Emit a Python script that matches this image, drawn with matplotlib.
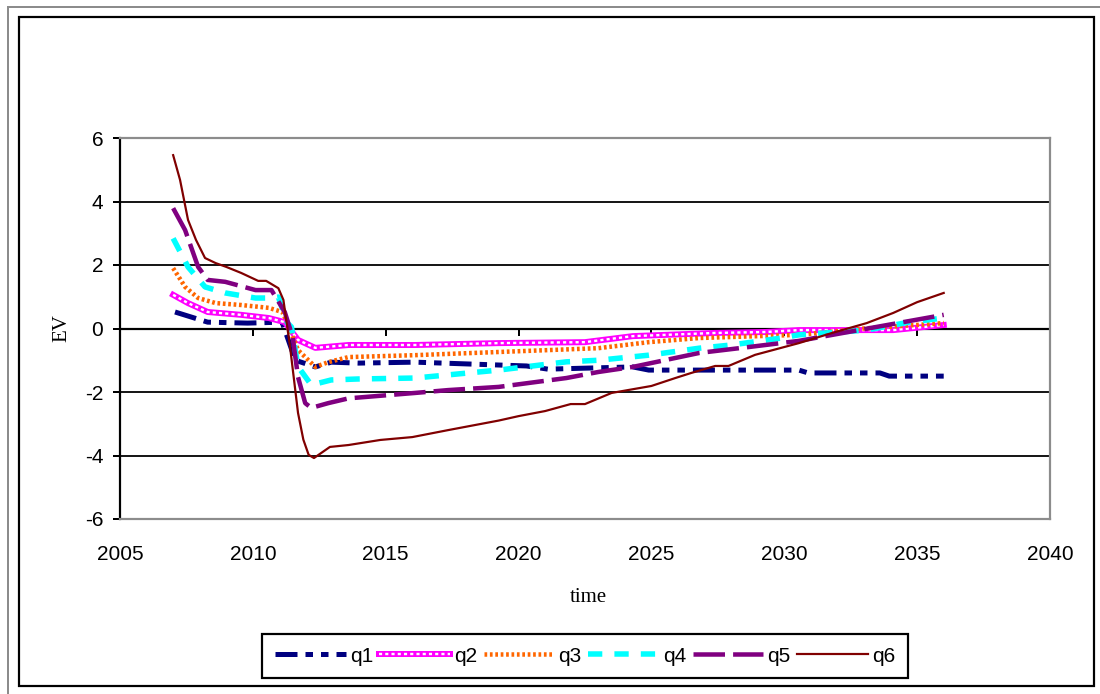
import matplotlib
matplotlib.use('Agg')
from matplotlib import pyplot as plt
from matplotlib.patches import Rectangle
from matplotlib.legend_handler import HandlerTuple

# values
q1_year = [2007.07, 2008.3, 2009.8, 2011.1, 2011.6, 2012.35, 2012.95, 2013.97, 2016.1,
           2019.25, 2020.3, 2021.1, 2024.3, 2024.9, 2030.55, 2030.9, 2033.6, 2033.95, 2036.0]
q1_ev = [0.52, 0.2, 0.17, 0.2, -1.0, -1.21, -1.06, -1.09, -1.06,
         -1.15, -1.18, -1.28, -1.21, -1.31, -1.31, -1.4, -1.4, -1.5, -1.5]

q2_year = [2007.0, 2007.56, 2008.3, 2009.56, 2010.6, 2011.2, 2011.7, 2012.35, 2013.6,
           2016.1, 2019.25, 2022.5, 2024.3, 2027.4, 2029.3, 2030.55, 2034.1, 2036.0]
q2_ev = [1.06, 0.8, 0.52, 0.43, 0.33, 0.2, -0.36, -0.61, -0.52,
         -0.52, -0.46, -0.43, -0.24, -0.14, -0.11, -0.05, -0.05, 0.11]

q3_year = [2007.0, 2007.45, 2007.94, 2008.6, 2009.56, 2010.6, 2011.1, 2011.2, 2011.7,
           2012.35, 2012.84, 2013.6, 2016.1, 2019.25, 2023.0, 2024.9, 2026.8, 2030.55,
           2033.0, 2036.0]
q3_ev = [1.9, 1.31, 0.96, 0.8, 0.74, 0.65, 0.52, 0.36, -0.68,
         -1.21, -1.06, -0.9, -0.84, -0.74, -0.62, -0.43, -0.3, -0.2,
         0.0, 0.17]

q4_year = [2007.0, 2007.56, 2008.2, 2008.96, 2010.1, 2010.7, 2010.96, 2011.3, 2011.45,
           2011.7, 2012.2, 2012.95, 2013.97, 2016.1, 2019.25, 2021.8, 2023.0, 2024.9,
           2026.8, 2028.0, 2029.9, 2030.55, 2033.1, 2034.7, 2036.0]
q4_ev = [2.84, 1.94, 1.31, 1.12, 0.96, 0.96, 0.99, 0.17, 0.05,
         -1.2, -1.78, -1.62, -1.59, -1.56, -1.31, -1.05, -1.0, -0.84,
         -0.62, -0.52, -0.3, -0.2, -0.05, 0.2, 0.33]

q5_year = [2007.0, 2007.45, 2007.94, 2008.3, 2008.96, 2010.1, 2010.7, 2011.2, 2011.5,
           2011.7, 2011.97, 2012.2, 2012.84, 2013.6, 2016.1, 2017.35, 2019.25, 2021.8,
           2023.0, 2024.3, 2026.8, 2028.7, 2030.55, 2036.0]
q5_ev = [3.79, 3.1, 1.94, 1.53, 1.47, 1.21, 1.21, 0.52, -0.27,
         -1.53, -2.35, -2.5, -2.35, -2.2, -2.03, -1.94, -1.84, -1.56,
         -1.37, -1.21, -0.77, -0.58, -0.39, 0.43]

q6_year = [2007.0, 2007.26, 2007.56, 2007.86, 2008.2, 2008.6, 2009.0, 2009.56, 2010.2,
           2010.5, 2010.96, 2011.15, 2011.4, 2011.7, 2011.9, 2012.1, 2012.3, 2012.9,
           2013.6, 2014.8, 2016.0, 2017.35, 2019.25, 2020.0, 2021.0, 2021.96, 2022.5,
           2023.5, 2025.0, 2025.9, 2026.5, 2027.4, 2027.9, 2028.9, 2030.55, 2031.8,
           2033.1, 2034.1, 2035.0, 2036.0]
q6_ev = [5.46, 4.68, 3.42, 2.79, 2.22, 2.06, 1.94, 1.75, 1.5,
         1.5, 1.27, 0.9, -0.58, -2.66, -3.5, -3.98, -4.08, -3.73,
         -3.67, -3.51, -3.42, -3.2, -2.9, -2.76, -2.6, -2.38, -2.38,
         -2.03, -1.81, -1.56, -1.4, -1.18, -1.18, -0.83, -0.46, -0.14,
         0.17, 0.49, 0.83, 1.12]

x_ticks = [2005, 2010, 2015, 2020, 2025, 2030, 2035, 2040]
y_ticks = [-6, -4, -2, 0, 2, 4, 6]

W, H = 1100, 694
PX = 72 / 100  # points per pixel

fig = plt.figure(figsize=(W / 100, H / 100), dpi=100)
fig.patch.set_facecolor('white')

# frames round the chart
fig.patches.append(Rectangle((8 / W, -0.05), 1.2, 1 - 7 / H + 0.05, transform=fig.transFigure,
                             fill=False, edgecolor='#8c8c8c', lw=2 * PX, zorder=0))
fig.patches.append(Rectangle((19 / W, 1 - 686 / H), (1094 - 19) / W, (686 - 17) / H,
                             transform=fig.transFigure, fill=False, edgecolor='black',
                             lw=2.2 * PX, zorder=0))

ax = fig.add_axes([120 / W, 1 - 519 / H, 930 / W, 381 / H])

h1, = ax.plot(q1_year, q1_ev, color='#000080', lw=5 * PX,
              linestyle=(0, (4.4, 1.6, 1.5, 1.6, 1.5, 1.6)))
h2a, = ax.plot(q2_year, q2_ev, color='#ff00ff', lw=6 * PX)
h2b, = ax.plot(q2_year, q2_ev, color='white', lw=2.4 * PX, linestyle=(0, (1.3, 1.3)))
h3, = ax.plot(q3_year, q3_ev, color='#ff6600', lw=4.5 * PX, linestyle=(0, (0.6, 0.6)))
h4, = ax.plot(q4_year, q4_ev, color='#00ffff', lw=5.5 * PX, linestyle=(0, (2.6, 2.2)))
h5, = ax.plot(q5_year, q5_ev, color='#800080', lw=4.5 * PX, linestyle=(0, (7, 1.8)))
h6, = ax.plot(q6_year, q6_ev, color='#800000', lw=2.2 * PX)

ax.set_xlim(2005, 2040)
ax.set_ylim(-6, 6)
ax.set_xticks(x_ticks)
ax.set_yticks(y_ticks)
ax.yaxis.grid(True, color='black', lw=1.8 * PX)
ax.set_axisbelow(True)

tick_font = dict(family='Liberation Sans', size=15)
ax.set_xticklabels([str(t) for t in x_ticks], fontdict=tick_font)
ax.set_yticklabels([str(t) for t in y_ticks], fontdict=tick_font)
ax.tick_params(axis='x', length=0, pad=19)
ax.tick_params(axis='y', length=5, width=2 * PX, direction='out', pad=7, color='black')

for side in ['top', 'right', 'bottom']:
    ax.spines[side].set_color('#8c8c8c')
    ax.spines[side].set_linewidth(2.2 * PX)
ax.spines['left'].set_color('black')
ax.spines['left'].set_linewidth(2.2 * PX)

# horizontal axis line crossing at zero, with its tick marks
ax.axhline(0, color='black', lw=2.2 * PX, zorder=1.5)
ax.plot(x_ticks, [0] * len(x_ticks), ls='none', marker=3, ms=5, mew=2 * PX,
        color='black', clip_on=False, zorder=1.5)

fig.text(588 / W, 1 - 598 / H, 'time', family='Liberation Serif', size=15,
         ha='center', va='center')
fig.text(62 / W, 1 - 328 / H, 'EV', family='Liberation Serif', size=15,
         ha='center', va='center', rotation=90)

leg = fig.legend([h1, (h2a, h2b), h3, h4, h5, h6], ['q1', 'q2', 'q3', 'q4', 'q5', 'q6'],
                 handler_map={tuple: HandlerTuple(ndivide=1, pad=0)},
                 loc='center', bbox_to_anchor=(585 / W, 1 - 656 / H), ncol=6,
                 prop={'family': 'Liberation Sans', 'size': 15},
                 handlelength=3.4, handletextpad=0.2, columnspacing=0.3,
                 borderpad=0.6, fancybox=False, framealpha=1)
leg.get_frame().set_edgecolor('black')
leg.get_frame().set_linewidth(2.2 * PX)

fig.savefig('out.png', dpi=100)
